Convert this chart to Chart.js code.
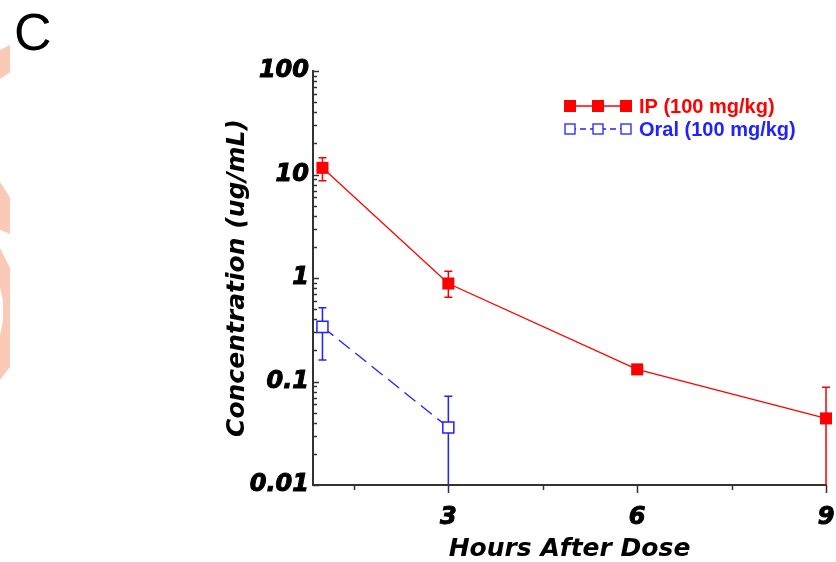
<!DOCTYPE html>
<html>
<head>
<meta charset="utf-8">
<script src="https://cdn.jsdelivr.net/npm/chart.js@4.4.1/dist/chart.umd.min.js"></script>
<style>
  html, body { margin: 0; padding: 0; background: #fff; }
  #wrap { position: relative; width: 836px; height: 562px; overflow: hidden; }
  #panel { position: absolute; left: 14px; top: 2px; font: 52px "Liberation Sans", Arial, sans-serif; color: #000; }
  .wm { position: absolute; left: 0; width: 10px; background: #fbcab6; }
</style>
</head>
<body>
<div id="wrap">
  <canvas id="myChart" width="836" height="562"></canvas>
  <div id="panel">C</div>
  <div class="wm" style="top:45px;height:34px;clip-path:polygon(0 15%,100% 0,100% 80%,0 100%)"></div>
  <div class="wm" style="top:182px;height:52px;clip-path:polygon(0 0,100% 30%,100% 100%,0 92%)"></div>
  <div class="wm" style="top:248px;height:132px;clip-path:polygon(0 0,100% 15%,100% 90%,0 100%,0 66%,30% 55%,30% 40%,0 30%)"></div>
</div>
<script>
// values
const hours = [1, 3, 6, 9];
const ipMean = [11.6, 0.885, 0.131, 0.044];
const ipHi = [14.5, 1.16, 0.14, 0.088];
const ipLo = [8.7, 0.65, 0.122, 0.001];

const oralHours = [1, 3];
const oralMean = [0.337, 0.036];
const oralHi = [0.516, 0.072];
const oralLo = [0.161, 0.001];

const xTicks = [3, 6, 9];
const xMinorTicks = [1.5, 4.5, 7.5];
const yTicks = [0.01, 0.1, 1, 10, 100];
const yTickLabels = ['0.01', '0.1', '1', '10', '100'];

const seriesNames = ['IP (100 mg/kg)', 'Oral (100 mg/kg)'];
const RED = '#ff0000';
const BLUE = '#2222ff';
const AXIS = '#333333';

const tickFont = { family: '"DejaVu Sans", sans-serif', size: 24, weight: 'bold', style: 'italic' };

// vertical error bars with caps, from errHi / errLo on each dataset
const errorBars = {
    id: 'errorBars',
    beforeDatasetsDraw(chart) {
        const { ctx, chartArea: a, scales: { x, y } } = chart;
        ctx.save();
        ctx.beginPath();
        ctx.rect(a.left - 20, a.top - 20, a.right - a.left + 40, a.bottom - a.top + 20);
        ctx.clip();
        chart.data.datasets.forEach(ds => {
            ctx.strokeStyle = ds.borderColor;
            ctx.lineWidth = 1.5;
            ctx.setLineDash([]);
            ds.data.forEach((p, i) => {
                const px = x.getPixelForValue(p.x);
                const top = y.getPixelForValue(ds.errHi[i]);
                const bot = y.getPixelForValue(ds.errLo[i]);
                ctx.beginPath();
                ctx.moveTo(px, top); ctx.lineTo(px, bot);
                ctx.moveTo(px - 4, top); ctx.lineTo(px + 4, top);
                ctx.moveTo(px - 4, bot); ctx.lineTo(px + 4, bot);
                ctx.stroke();
            });
        });
        ctx.restore();
    }
};

// short tick marks: inside on the log axis, outside on the x axis
const tickMarks = {
    id: 'tickMarks',
    afterDraw(chart) {
        const { ctx, chartArea: a, scales: { x, y } } = chart;
        ctx.save();
        ctx.strokeStyle = AXIS;
        ctx.lineWidth = 1.5;
        ctx.beginPath();
        for (let e = -2; e <= 1; e++) {
            for (let k = 1; k <= 9; k++) {
                const py = Math.round(y.getPixelForValue(k * Math.pow(10, e))) + 0.5;
                ctx.moveTo(a.left, py);
                ctx.lineTo(a.left + (k === 1 ? 6 : 4), py);
            }
        }
        const pTop = Math.round(y.getPixelForValue(100)) + 0.5;
        ctx.moveTo(a.left, pTop); ctx.lineTo(a.left + 6, pTop);
        xTicks.forEach(v => {
            const px = Math.round(x.getPixelForValue(v)) + 0.5;
            ctx.moveTo(px, a.bottom); ctx.lineTo(px, a.bottom + 8);
        });
        xMinorTicks.forEach(v => {
            const px = Math.round(x.getPixelForValue(v)) + 0.5;
            ctx.moveTo(px, a.bottom); ctx.lineTo(px, a.bottom + 5);
        });
        ctx.stroke();
        ctx.restore();
    }
};

// legend with three markers per row
const markerLegend = {
    id: 'markerLegend',
    afterDraw(chart) {
        const { ctx } = chart;
        const rows = [
            { y: 106, color: RED, filled: true, dash: [] },
            { y: 129, color: BLUE, filled: false, dash: [6, 4] }
        ];
        ctx.save();
        rows.forEach((r, i) => {
            ctx.strokeStyle = r.color;
            ctx.fillStyle = r.color;
            ctx.lineWidth = 1.3;
            ctx.setLineDash(r.dash);
            ctx.beginPath();
            ctx.moveTo(570, r.y); ctx.lineTo(626, r.y);
            ctx.stroke();
            ctx.setLineDash([]);
            [570, 598, 626].forEach(cx => {
                const s = r.filled ? 12 : 10;
                if (r.filled) {
                    ctx.fillRect(cx - s / 2, r.y - s / 2, s, s);
                } else {
                    ctx.fillStyle = '#fff';
                    ctx.fillRect(cx - s / 2, r.y - s / 2, s, s);
                    ctx.strokeRect(cx - s / 2, r.y - s / 2, s, s);
                }
            });
            ctx.fillStyle = r.color;
            ctx.font = 'bold 20px "Liberation Sans", Arial, sans-serif';
            ctx.textBaseline = 'middle';
            ctx.fillText(seriesNames[i], 639, r.y + 1);
        });
        ctx.restore();
    }
};

const ctx = document.getElementById('myChart').getContext('2d');

const chart = new Chart(ctx, {
    type: 'line',
    data: {
        datasets: [
            {
                label: seriesNames[0],
                data: hours.map((h, i) => ({ x: h, y: ipMean[i] })),
                errHi: ipHi,
                errLo: ipLo,
                borderColor: RED,
                backgroundColor: RED,
                borderWidth: 1.3,
                pointStyle: 'rect',
                pointRadius: 8.5,
                pointBorderWidth: 0,
                pointBackgroundColor: RED,
                tension: 0,
                clip: false
            },
            {
                label: seriesNames[1],
                data: oralHours.map((h, i) => ({ x: h, y: oralMean[i] })),
                errHi: oralHi,
                errLo: oralLo,
                borderColor: BLUE,
                backgroundColor: '#fff',
                borderWidth: 1.3,
                borderDash: [14, 7],
                pointStyle: 'rect',
                pointRadius: 7.8,
                pointBorderWidth: 1.5,
                pointBorderColor: BLUE,
                pointBackgroundColor: '#fff',
                tension: 0,
                clip: false
            }
        ]
    },
    options: {
        responsive: false,
        animation: false,
        events: [],
        layout: { padding: { left: 0, right: 10, top: 71, bottom: 0 } },
        plugins: {
            legend: { display: false },
            tooltip: { enabled: false }
        },
        scales: {
            x: {
                type: 'linear',
                min: 0.85,
                max: 9,
                grid: { display: false },
                border: { display: true, color: AXIS, width: 2 },
                afterBuildTicks: s => { s.ticks = xTicks.map(v => ({ value: v })); },
                afterFit: s => { s.height = 77; s.paddingLeft = 0; s.paddingRight = 0; },
                ticks: {
                    color: '#000',
                    font: tickFont,
                    textStrokeColor: '#000',
                    textStrokeWidth: 1,
                    padding: 10,
                    maxRotation: 0,
                    callback: v => String(v)
                },
                title: {
                    display: true,
                    text: 'Hours After Dose',
                    color: '#000',
                    font: { family: '"DejaVu Sans", sans-serif', size: 25, weight: 'bold', style: 'italic' },
                    padding: { top: 0, bottom: -2 }
                }
            },
            y: {
                type: 'logarithmic',
                min: 0.01,
                max: 100,
                grid: { display: false },
                border: { display: true, color: AXIS, width: 2 },
                afterBuildTicks: s => { s.ticks = yTicks.map(v => ({ value: v, major: true })); },
                afterFit: s => { s.width = 313; s.paddingTop = 0; s.paddingBottom = 0; },
                ticks: {
                    color: '#000',
                    font: tickFont,
                    textStrokeColor: '#000',
                    textStrokeWidth: 1,
                    padding: -4,
                    callback: (v, i) => yTickLabels[i]
                },
                title: {
                    display: true,
                    text: 'Concentration (ug/mL)',
                    color: '#000',
                    font: { family: '"DejaVu Sans", sans-serif', size: 25, weight: 'bold', style: 'italic' },
                    padding: { top: 222, bottom: 0 }
                }
            }
        }
    },
    plugins: [errorBars, tickMarks, markerLegend]
});
</script>
</body>
</html>
